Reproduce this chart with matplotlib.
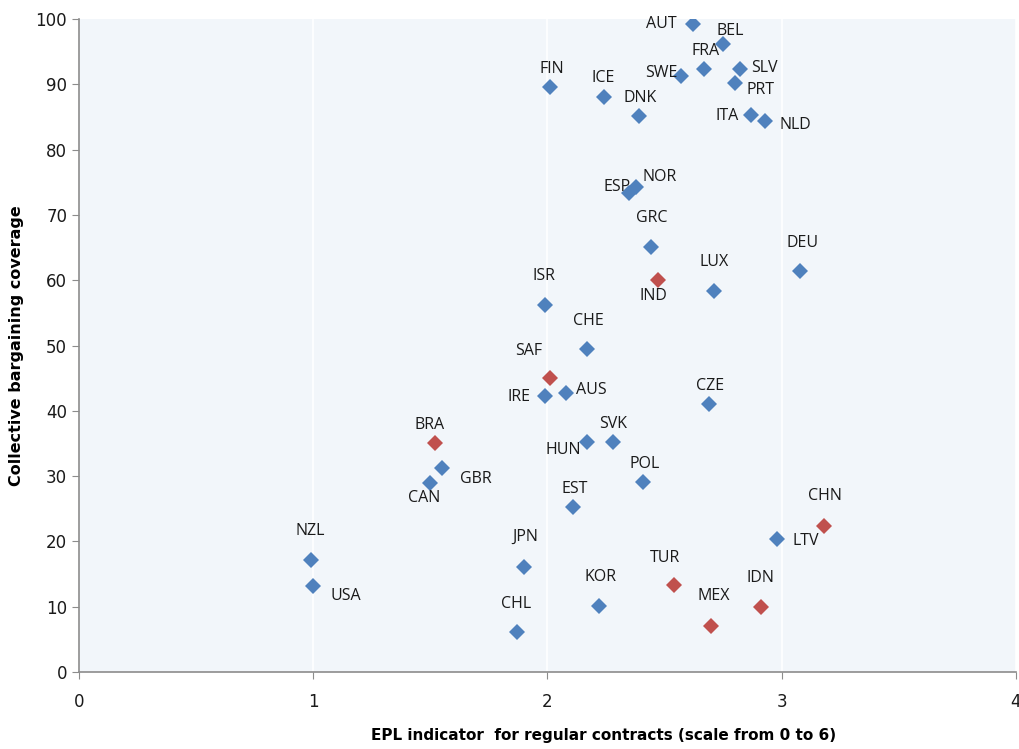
import matplotlib
matplotlib.use("Agg")
import matplotlib.pyplot as plt

# OECD countries (blue)
oecd_codes = ["AUT", "BEL", "FRA", "SLV", "SWE", "PRT", "FIN", "ICE", "DNK", "ITA",
              "NLD", "NOR", "ESP", "GRC", "DEU", "LUX", "ISR", "CHE", "AUS", "IRE",
              "CZE", "HUN", "SVK", "GBR", "CAN", "POL", "EST", "LTV", "NZL", "JPN",
              "USA", "KOR", "CHL"]
oecd_epl = [2.62, 2.75, 2.67, 2.82, 2.57, 2.80, 2.01, 2.24, 2.39, 2.87,
            2.93, 2.38, 2.35, 2.44, 3.08, 2.71, 1.99, 2.17, 2.08, 1.99,
            2.69, 2.17, 2.28, 1.55, 1.50, 2.41, 2.11, 2.98, 0.99, 1.90,
            1.00, 2.22, 1.87]
oecd_cov = [99.2, 96.2, 92.3, 92.3, 91.3, 90.2, 89.6, 88.1, 85.2, 85.3,
            84.4, 74.3, 73.4, 65.1, 61.4, 58.3, 56.2, 49.4, 42.8, 42.3,
            41.0, 35.2, 35.2, 31.2, 28.9, 29.1, 25.3, 20.3, 17.2, 16.1,
            13.2, 10.1, 6.1]

# emerging economies (red)
emg_codes = ["IND", "SAF", "BRA", "CHN", "TUR", "IDN", "MEX"]
emg_epl = [2.47, 2.01, 1.52, 3.18, 2.54, 2.91, 2.70]
emg_cov = [60.1, 45.1, 35.1, 22.4, 13.3, 10.0, 7.0]

# label offsets in pixels (dx, dy) relative to the marker
offsets = {
    "AUT": (-31, 0), "BEL": (7, 13), "FRA": (1, 18), "SLV": (25, 1), "SWE": (-20, 3),
    "PRT": (26, -7), "FIN": (2, 18), "ICE": (0, 19), "DNK": (1, 18), "ITA": (-24, -1),
    "NLD": (30, -4), "NOR": (23, 10), "ESP": (-12, 6), "GRC": (1, 29), "DEU": (2, 28),
    "IND": (-4, -16), "LUX": (0, 29), "ISR": (-1, 29), "CHE": (1, 28), "SAF": (-21, 27),
    "AUS": (25, 3), "IRE": (-26, -1), "CZE": (1, 18), "BRA": (-5, 18), "HUN": (-24, -8),
    "SVK": (0, 18), "GBR": (34, -11), "CAN": (-6, -15), "POL": (1, 18), "EST": (1, 18),
    "CHN": (1, 30), "LTV": (29, -2), "NZL": (-1, 29), "JPN": (1, 30), "USA": (33, -10),
    "TUR": (-9, 27), "KOR": (2, 29), "IDN": (0, 29), "MEX": (2, 30), "CHL": (-1, 28),
}

blue = "#4F81BD"
red = "#C0504D"
grey = "#8C8C8C"

fig = plt.figure(figsize=(10.19, 7.49), dpi=100)
ax = fig.add_axes([0.0775, 0.1028, 0.9195, 0.8718])
ax.set_facecolor("#F2F6FA")

ax.plot(oecd_epl, oecd_cov, "D", color=blue, markersize=8.5, markeredgewidth=0, zorder=3)
ax.plot(emg_epl, emg_cov, "D", color=red, markersize=8.5, markeredgewidth=0, zorder=3)

px = 72 / 100  # pixels -> points
for codes, xs, ys in [(oecd_codes, oecd_epl, oecd_cov), (emg_codes, emg_epl, emg_cov)]:
    for c, x, y in zip(codes, xs, ys):
        dx, dy = offsets[c]
        ax.annotate(c, (x, y), xytext=(dx * px, dy * px), textcoords="offset points",
                    ha="center", va="center", fontsize=11.5, color="#1a1a1a",
                    family="Open Sans")

ax.set_xlim(0, 4)
ax.set_ylim(0, 100)
ax.set_xticks([0, 1, 2, 3, 4])
ax.set_yticks(range(0, 101, 10))
ax.grid(axis="x", color="white", linewidth=1.2)
ax.set_axisbelow(True)

for s in ["top", "right"]:
    ax.spines[s].set_visible(False)
for s in ["left", "bottom"]:
    ax.spines[s].set_color(grey)
    ax.spines[s].set_linewidth(1.2)
ax.tick_params(direction="out", length=5, color=grey, labelsize=12, labelcolor="#1a1a1a")
ax.tick_params(axis="x", pad=10)

ax.set_xlabel("EPL indicator  for regular contracts (scale from 0 to 6)", fontsize=11,
              fontweight="bold")
ax.xaxis.set_label_coords(0.56, -0.085)
ax.set_ylabel("Collective bargaining coverage", fontsize=11.5, fontweight="bold", labelpad=8)

fig.savefig("out.png", dpi=100)
